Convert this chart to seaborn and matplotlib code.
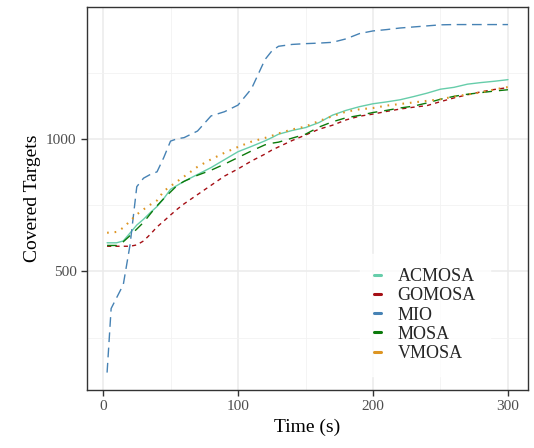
import pandas as pd
import numpy as np
import matplotlib
matplotlib.use("Agg")
import matplotlib.pyplot as plt
import seaborn as sns

# time points (s)
times = [3, 6, 10, 15, 20, 25, 30, 35, 40, 45, 50, 55, 60, 70, 80, 90, 100, 110, 120, 125,
         130, 140, 150, 160, 170, 180, 190, 200, 210, 220, 230, 240, 250, 260, 270, 280, 290, 300]

acmosa = [608, 608, 608, 615, 645, 675, 697, 722, 745, 775, 810, 825, 840, 866, 892, 922, 952, 972, 993, 1005,
          1018, 1032, 1043, 1062, 1090, 1108, 1122, 1133, 1140, 1148, 1160, 1173, 1188, 1195, 1207, 1213, 1218, 1224]
gomosa = [595, 595, 595, 595, 595, 600, 615, 640, 668, 690, 713, 735, 755, 790, 825, 860, 887, 917, 943, 958,
          970, 994, 1015, 1037, 1052, 1072, 1086, 1094, 1104, 1113, 1120, 1126, 1141, 1155, 1167, 1178, 1187, 1194]
mio = [118, 360, 400, 450, 600, 820, 852, 866, 876, 930, 992, 1001, 1005, 1030, 1087, 1103, 1128, 1190, 1300, 1332,
       1350, 1357, 1360, 1362, 1365, 1378, 1398, 1408, 1413, 1419, 1423, 1427, 1431, 1432, 1432, 1432, 1432, 1432]
mosa = [598, 598, 598, 612, 635, 660, 685, 717, 748, 775, 800, 825, 840, 863, 882, 905, 930, 955, 978, 984,
        988, 1003, 1018, 1045, 1065, 1080, 1089, 1100, 1108, 1117, 1124, 1136, 1150, 1161, 1169, 1175, 1181, 1186]
vmosa = [646, 647, 649, 665, 690, 715, 734, 752, 768, 803, 822, 840, 858, 895, 923, 948, 970, 990, 1004, 1012,
         1021, 1036, 1047, 1068, 1086, 1103, 1112, 1117, 1126, 1132, 1138, 1144, 1150, 1160, 1168, 1176, 1187, 1196]

methods = ["ACMOSA", "GOMOSA", "MIO", "MOSA", "VMOSA"]
series = [acmosa, gomosa, mio, mosa, vmosa]

df = pd.concat([pd.DataFrame({"Time": times, "Covered": vals, "Method": m})
                for m, vals in zip(methods, series)], ignore_index=True)

palette = {"ACMOSA": "#66CDAA", "GOMOSA": "#A50F15", "MIO": "#4682B4",
           "MOSA": "#0B7A0B", "VMOSA": "#DD9522"}
dashes = {"ACMOSA": "", "GOMOSA": (3, 3), "MIO": (7, 4), "MOSA": (7, 5), "VMOSA": (1, 4)}

sns.set_style("whitegrid")
plt.rcParams["font.family"] = ["Liberation Serif", "DejaVu Serif"]

fig = plt.figure(figsize=(5.34, 4.48), dpi=100)
ax = fig.add_axes([0.163, 0.1295, 0.8258, 0.8545])

sns.lineplot(data=df, x="Time", y="Covered", hue="Method", style="Method",
             palette=palette, dashes=dashes, linewidth=1.0, ax=ax)
# dotted line a bit heavier so the dots read like the original
vline = ax.lines[4]
vline.set_linewidth(1.5)
vline.set_dashes((0.8, 2.8))

ax.set_xlim(3 - 0.05 * 297, 300 + 0.05 * 297)
ax.set_ylim(118 - 0.05 * 1314, 1432 + 0.05 * 1314)
ax.set_xticks([0, 100, 200, 300])
ax.set_yticks([500, 1000])
ax.set_xticks([50, 150, 250], minor=True)
ax.set_yticks([250, 750, 1250], minor=True)
ax.grid(True, which="major", color="#EBEBEB", linewidth=1.1)
ax.grid(True, which="minor", color="#F2F2F2", linewidth=0.6)
ax.tick_params(axis="both", which="major", length=4, width=1, color="#333333",
               labelsize=11, labelcolor="#4D4D4D", direction="out", bottom=True, left=True)
ax.tick_params(axis="both", which="minor", length=0)
for s in ax.spines.values():
    s.set_color("#333333")
    s.set_linewidth(1.0)

ax.set_xlabel("Time (s)", fontsize=14, color="black")
ax.set_ylabel("Covered Targets", fontsize=14, color="black")

leg = ax.legend(loc="lower right", bbox_to_anchor=(0.935, 0.012), frameon=True, fontsize=13,
                handlelength=0.4, handletextpad=0.9, labelspacing=0.12, borderpad=0.8,
                fancybox=False)
leg.get_frame().set_facecolor("white")
leg.get_frame().set_edgecolor("white")
for line in leg.get_lines():
    line.set_linewidth(2.2)
    line.set_linestyle("-")

fig.savefig("out.png", dpi=100)
